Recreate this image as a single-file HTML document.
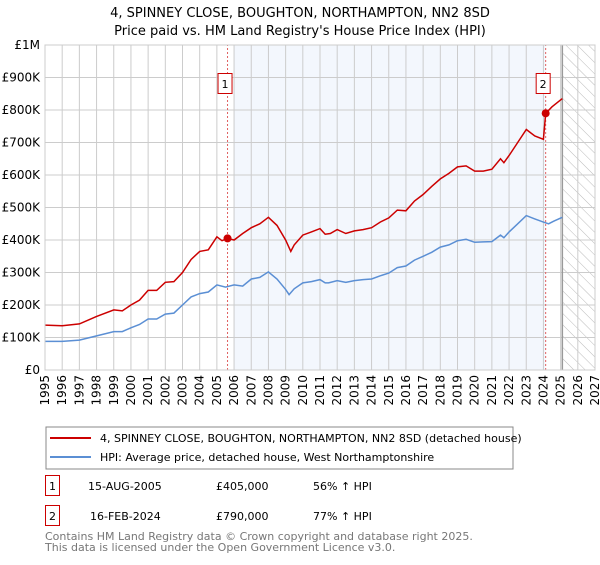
<!DOCTYPE html>
<html><head><meta charset="utf-8"><style>
body{margin:0;background:#fff;font-family:"Liberation Sans","DejaVu Sans",sans-serif;}
svg text{font-family:"DejaVu Sans","Liberation Sans",sans-serif;}
</style></head><body>
<svg id="c" width="600" height="560" viewBox="0 0 600 560">
<defs><pattern id="hatch" width="8" height="8" patternUnits="userSpaceOnUse" patternTransform="rotate(-45)"><line x1="0" y1="0" x2="0" y2="8" stroke="#bbb" stroke-width="1"/></pattern></defs>
<text x="300" y="17" text-anchor="middle" font-size="13">4, SPINNEY CLOSE, BOUGHTON, NORTHAMPTON, NN2 8SD</text>
<text x="300" y="35" text-anchor="middle" font-size="13">Price paid vs. HM Land Registry's House Price Index (HPI)</text>
<g id="plot"></g>
<rect x="46" y="427" width="467" height="42" fill="none" stroke="#888"/>
<line x1="50" y1="438" x2="91" y2="438" stroke="#cc0000" stroke-width="2"/>
<text x="100" y="442" font-size="11">4, SPINNEY CLOSE, BOUGHTON, NORTHAMPTON, NN2 8SD (detached house)</text>
<line x1="50" y1="457" x2="91" y2="457" stroke="#5b8fd4" stroke-width="2"/>
<text x="100" y="461" font-size="11">HPI: Average price, detached house, West Northamptonshire</text>
<g>
<rect x="45.5" y="475.5" width="14" height="20" fill="none" stroke="#cc0000"/>
<text x="52.5" y="490" text-anchor="middle" font-size="11">1</text>
<text x="88" y="490" font-size="11">15-AUG-2005</text>
<text x="216" y="490" font-size="11">£405,000</text>
<text x="313" y="490" font-size="11">56% ↑ HPI</text></g>
<g>
<rect x="45.5" y="505.5" width="14" height="20" fill="none" stroke="#cc0000"/>
<text x="52.5" y="520" text-anchor="middle" font-size="11">2</text>
<text x="90" y="520" font-size="11">16-FEB-2024</text>
<text x="216" y="520" font-size="11">£790,000</text>
<text x="313" y="520" font-size="11">77% ↑ HPI</text></g>
<text x="45" y="540" font-size="11" fill="#777">Contains HM Land Registry data © Crown copyright and database right 2025.</text>
<text x="45" y="551" font-size="11" fill="#777">This data is licensed under the Open Government Licence v3.0.</text>
</svg>
<script>
const yTicks=[0,100,200,300,400,500,600,700,800,900,1000];
const yTickLabels=["£0","£100K","£200K","£300K","£400K","£500K","£600K","£700K","£800K","£900K","£1M"];
const xYears=[1995,1996,1997,1998,1999,2000,2001,2002,2003,2004,2005,2006,2007,2008,2009,2010,2011,2012,2013,2014,2015,2016,2017,2018,2019,2020,2021,2022,2023,2024,2025,2026,2027];
const hpiT=[1995,1996,1997,1998,1999,1999.5,2000,2000.5,2001,2001.5,2002,2002.5,2003,2003.5,2004,2004.5,2005,2005.5,2006,2006.5,2007,2007.5,2008,2008.5,2009,2009.2,2009.5,2010,2010.5,2011,2011.3,2011.5,2012,2012.5,2013,2013.5,2014,2014.5,2015,2015.5,2016,2016.5,2017,2017.5,2018,2018.5,2019,2019.5,2020,2020.5,2021,2021.5,2021.7,2022,2022.5,2023,2023.5,2024,2024.3,2024.6,2025.1];
const hpiV=[88,88,92,105,118,118,130,140,157,157,172,175,200,225,235,240,262,255,262,258,280,285,302,280,248,232,250,268,272,278,268,268,275,270,275,278,280,290,298,315,320,338,350,362,378,385,398,402,393,394,395,415,407,425,450,475,465,455,450,458,470];
const propT=[1995,1996,1997,1998,1999,1999.5,2000,2000.5,2001,2001.5,2002,2002.5,2003,2003.5,2004,2004.5,2005,2005.3,2005.62,2006,2006.5,2007,2007.5,2008,2008.5,2009,2009.3,2009.5,2010,2010.5,2011,2011.3,2011.6,2012,2012.5,2013,2013.5,2014,2014.5,2015,2015.5,2016,2016.5,2017,2017.5,2018,2018.5,2019,2019.5,2020,2020.5,2021,2021.5,2021.7,2022,2022.5,2023,2023.5,2024.0,2024.13,2024.5,2025.1];
const propV=[138,136,142,165,185,182,200,215,245,245,270,272,300,340,365,370,410,398,405,400,420,438,450,470,445,400,365,385,415,425,435,418,420,432,420,428,432,438,455,468,492,490,520,540,565,588,605,625,628,612,612,618,650,638,660,700,740,720,710,790,810,835];
const saleT=[2005.62,2024.13];
const saleV=[405,790];
const saleLabels=["1","2"];
const X=t=>45+(t-1995)*(550/32);
const Y=v=>370-v*0.325;
const ns="http://www.w3.org/2000/svg";
const g=document.getElementById('plot');
function mk(tag,attrs,parent){const e=document.createElementNS(ns,tag);for(const k in attrs)e.setAttribute(k,attrs[k]);(parent||g).appendChild(e);return e;}
const shade=mk('rect',{x:X(2006),y:Y(1000),width:X(saleT[1])-X(2006),height:Y(0)-Y(1000),fill:'#eef3fc',opacity:0.7});


const hat=mk('rect',{x:X(2025.1),y:Y(1000),width:X(2027)-X(2025.1),height:Y(0)-Y(1000),fill:'url(#hatch)'});


xYears.forEach(y=>{const l=mk('line',{x1:X(y),x2:X(y),y1:Y(0),y2:Y(1000),stroke:'#ccc'});


const t=mk('text',{x:0,y:0,'font-size':12,'text-anchor':'end',transform:`translate(${X(y)+4},375) rotate(-90)`});t.textContent=y;

});
yTicks.forEach((v,i)=>{const l=mk('line',{x1:X(1995),x2:X(2027),y1:Y(v),y2:Y(v),stroke:'#ccc'});


const t=mk('text',{x:40,y:Y(v)+4,'font-size':12,'text-anchor':'end'});t.textContent=yTickLabels[i];

});
const nl=mk('line',{x1:X(2025.1),x2:X(2025.1),y1:Y(0),y2:Y(1000),stroke:'#999','stroke-width':1.5});


saleT.forEach((t,i)=>{const l=mk('line',{x1:X(t),x2:X(t),y1:Y(0),y2:Y(1000),stroke:'#e06060','stroke-dasharray':'2,2'});

});
const pts=(T,V)=>T.map((t,i)=>X(t).toFixed(1)+','+Y(V[i]).toFixed(1)).join(' ');
const hl=mk('polyline',{points:pts(hpiT,hpiV),fill:'none',stroke:'#5b8fd4','stroke-width':1.5});


const pl=mk('polyline',{points:pts(propT,propV),fill:'none',stroke:'#cc0000','stroke-width':1.5});


saleT.forEach((t,i)=>{const c=mk('circle',{cx:X(t),cy:Y(saleV[i]),r:4,fill:'#cc0000'});


const b=mk('rect',{x:X(t)-9.5,y:73.5,width:14,height:20,fill:'#fff',stroke:'#cc0000'});


const tx=mk('text',{x:X(t)-2.5,y:88,'font-size':11,'text-anchor':'middle'});tx.textContent=saleLabels[i];

});
const ax=mk('rect',{x:X(1995),y:Y(1000),width:X(2027)-X(1995),height:Y(0)-Y(1000),fill:'none',stroke:'#ccc'});


</script>
</body></html>
